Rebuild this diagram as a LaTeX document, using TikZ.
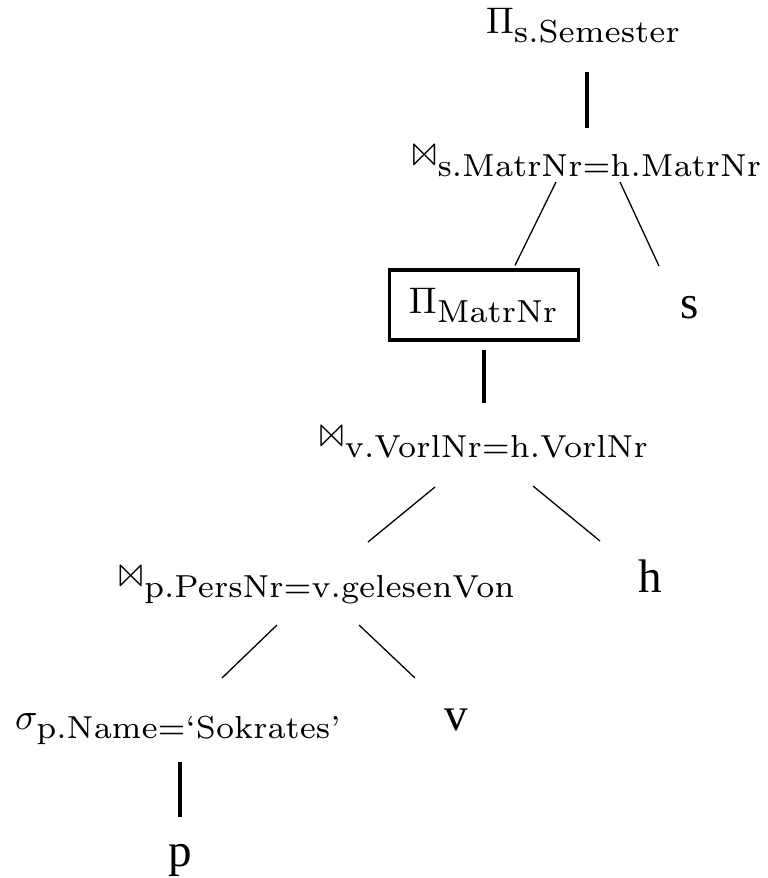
\documentclass[tikz,border=0pt]{standalone}
\usepackage{latexsym}
\usepackage{fontspec}
\newfontfamily\leaffont{Liberation Serif}
\font\subrm=cmr7 at 8.6pt
\newcommand{\attr}[1]{\mbox{\subrm #1}}

\begin{document}
\begin{tikzpicture}[x=0.27pt, y=-0.27pt,
    op/.style={anchor=base, inner sep=0pt},
    leaf/.style={anchor=base, inner sep=0pt, font=\leaffont\fontsize{12.7}{15}\selectfont},
    trunk/.style={line width=0.9pt},
    branch/.style={line width=0.35pt}]
  % Anfragebaum: Projektion oben, Relationen s, h, v, p als Blaetter
  \useasboundingbox (0,0) rectangle (768,878);
  \node[op] (proj) at (584,33) {$\Pi_{\attr{s.Semester}}$};
  \node[op] (joinsh) at (587,167) {$\Join_{\attr{s.MatrNr=h.MatrNr}}$};
  \node[draw, line width=0.85pt, inner sep=0pt, minimum width=51pt, minimum height=18.9pt]
    (projm) at (484,305) {$\Pi_{\attr{MatrNr}}$};
  \node[leaf] (s) at (690,318) {s};
  \node[op] (joinvh) at (484,448) {$\Join_{\attr{v.VorlNr=h.VorlNr}}$};
  \node[leaf] (h) at (650,592) {h};
  \node[op] (joinpv) at (317,588) {$\Join_{\attr{p.PersNr=v.gelesenVon}}$};
  \node[op] (sel) at (179,729) {$\sigma_{\attr{p.Name=`Sokrates'}}$};
  \node[leaf] (v) at (456,730) {v};
  \node[leaf] (p) at (180,866) {p};

  \draw[trunk] ([shift={(3,39)}]proj.base) -- ([shift={(0,-39)}]joinsh.base);
  \draw[branch] ([shift={(-31,15)}]joinsh.base) -- ([shift={(31,-3)}]projm.north);
  \draw[branch] ([shift={(33,15)}]joinsh.base) -- ([shift={(-31,-52)}]s.base);
  \draw[trunk] ([shift={(0,8)}]projm.south) -- ([shift={(0,-45)}]joinvh.base);
  \draw[branch] ([shift={(-49,39)}]joinvh.base) -- ([shift={(51,-46)}]joinpv.base);
  \draw[branch] ([shift={(49,38)}]joinvh.base) -- ([shift={(-50,-51)}]h.base);
  \draw[branch] ([shift={(-40,37)}]joinpv.base) -- ([shift={(43,-51)}]sel.base);
  \draw[branch] ([shift={(42,37)}]joinpv.base) -- ([shift={(-41,-52)}]v.base);
  \draw[trunk] ([shift={(1,33)}]sel.base) -- ([shift={(0,-49)}]p.base);
\end{tikzpicture}
\end{document}
